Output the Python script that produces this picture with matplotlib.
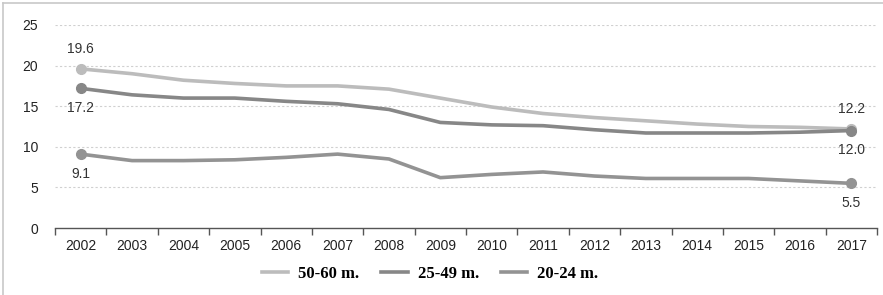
import matplotlib.pyplot as plt
from matplotlib.lines import Line2D

# Data
years = list(range(2002, 2018))
age_50_60 = [19.6, 19.0, 18.2, 17.8, 17.5, 17.5, 17.1, 16.0, 14.9, 14.1, 13.6, 13.2, 12.8, 12.5, 12.4, 12.2]
age_25_49 = [17.2, 16.4, 16.0, 16.0, 15.6, 15.3, 14.6, 13.0, 12.7, 12.6, 12.1, 11.7, 11.7, 11.7, 11.8, 12.0]
age_20_24 = [9.1, 8.3, 8.3, 8.4, 8.7, 9.1, 8.5, 6.2, 6.6, 6.9, 6.4, 6.1, 6.1, 6.1, 5.8, 5.5]

series = [
    ('50-60 m.', age_50_60, '#bcbcbc'),
    ('25-49 m.', age_25_49, '#878787'),
    ('20-24 m.', age_20_24, '#939393'),
]

plt.rcParams['font.family'] = ['Liberation Sans', 'DejaVu Sans']

fig = plt.figure(figsize=(8.83, 2.95), dpi=100)
ax = fig.add_axes([55 / 883, 1 - 228 / 295, 822 / 883, 203 / 295])

for label, vals, col in series:
    ax.plot(years, vals, color=col, linewidth=2.6, solid_capstyle='round', label=label)
    ax.plot([years[0], years[-1]], [vals[0], vals[-1]], 'o', color=col, markersize=7)

# endpoint labels
txt = dict(textcoords='offset points', ha='center', fontsize=10, color='#333333')
ax.annotate('19.6', (years[0], age_50_60[0]), xytext=(0, 9), va='bottom', **txt)
ax.annotate('17.2', (years[0], age_25_49[0]), xytext=(0, -9), va='top', **txt)
ax.annotate('9.1', (years[0], age_20_24[0]), xytext=(0, -9), va='top', **txt)
ax.annotate('12.2', (years[-1], age_50_60[-1]), xytext=(0, 9), va='bottom', **txt)
ax.annotate('12.0', (years[-1], age_25_49[-1]), xytext=(0, -9), va='top', **txt)
ax.annotate('5.5', (years[-1], age_20_24[-1]), xytext=(0, -9), va='top', **txt)

ax.set_xlim(2001.5, 2017.5)
ax.set_ylim(0, 25)
ax.set_yticks([0, 5, 10, 15, 20, 25])
ax.set_xticks(years)
ax.set_xticks([y - 0.5 for y in years] + [2017.5], minor=True)
ax.tick_params(axis='x', which='major', length=0, pad=8, labelsize=10, labelcolor='#222222')
ax.tick_params(axis='x', which='minor', length=5, color='#555555', width=1)
ax.tick_params(axis='y', length=0, pad=12, labelsize=10, labelcolor='#222222')

for s in ['top', 'right', 'left']:
    ax.spines[s].set_visible(False)
ax.spines['bottom'].set_color('#555555')
ax.spines['bottom'].set_linewidth(1)

for v in [5, 10, 15, 20, 25]:
    ax.axhline(v, color='#d0d0d0', linewidth=0.8, linestyle=(0, (2, 2)), zorder=0)

handles = [Line2D([0], [0], color=c, linewidth=2.6) for _, _, c in series]
fig.legend(handles, [s[0] for s in series], loc='center', bbox_to_anchor=(430 / 883, 1 - 274 / 295),
           ncol=3, frameon=False, handlelength=1.6, columnspacing=1.3, handletextpad=0.6,
           prop={'family': 'Liberation Serif', 'weight': 'bold', 'size': 12})

# frame lines at left and top of the picture
fig.add_artist(Line2D([3 / 883, 3 / 883], [0, 1 - 3 / 295], color='#c8c8c8', linewidth=1.2, transform=fig.transFigure))
fig.add_artist(Line2D([3 / 883, 1], [1 - 3 / 295, 1 - 3 / 295], color='#c8c8c8', linewidth=1.2, transform=fig.transFigure))

fig.savefig('out.png', dpi=100)
